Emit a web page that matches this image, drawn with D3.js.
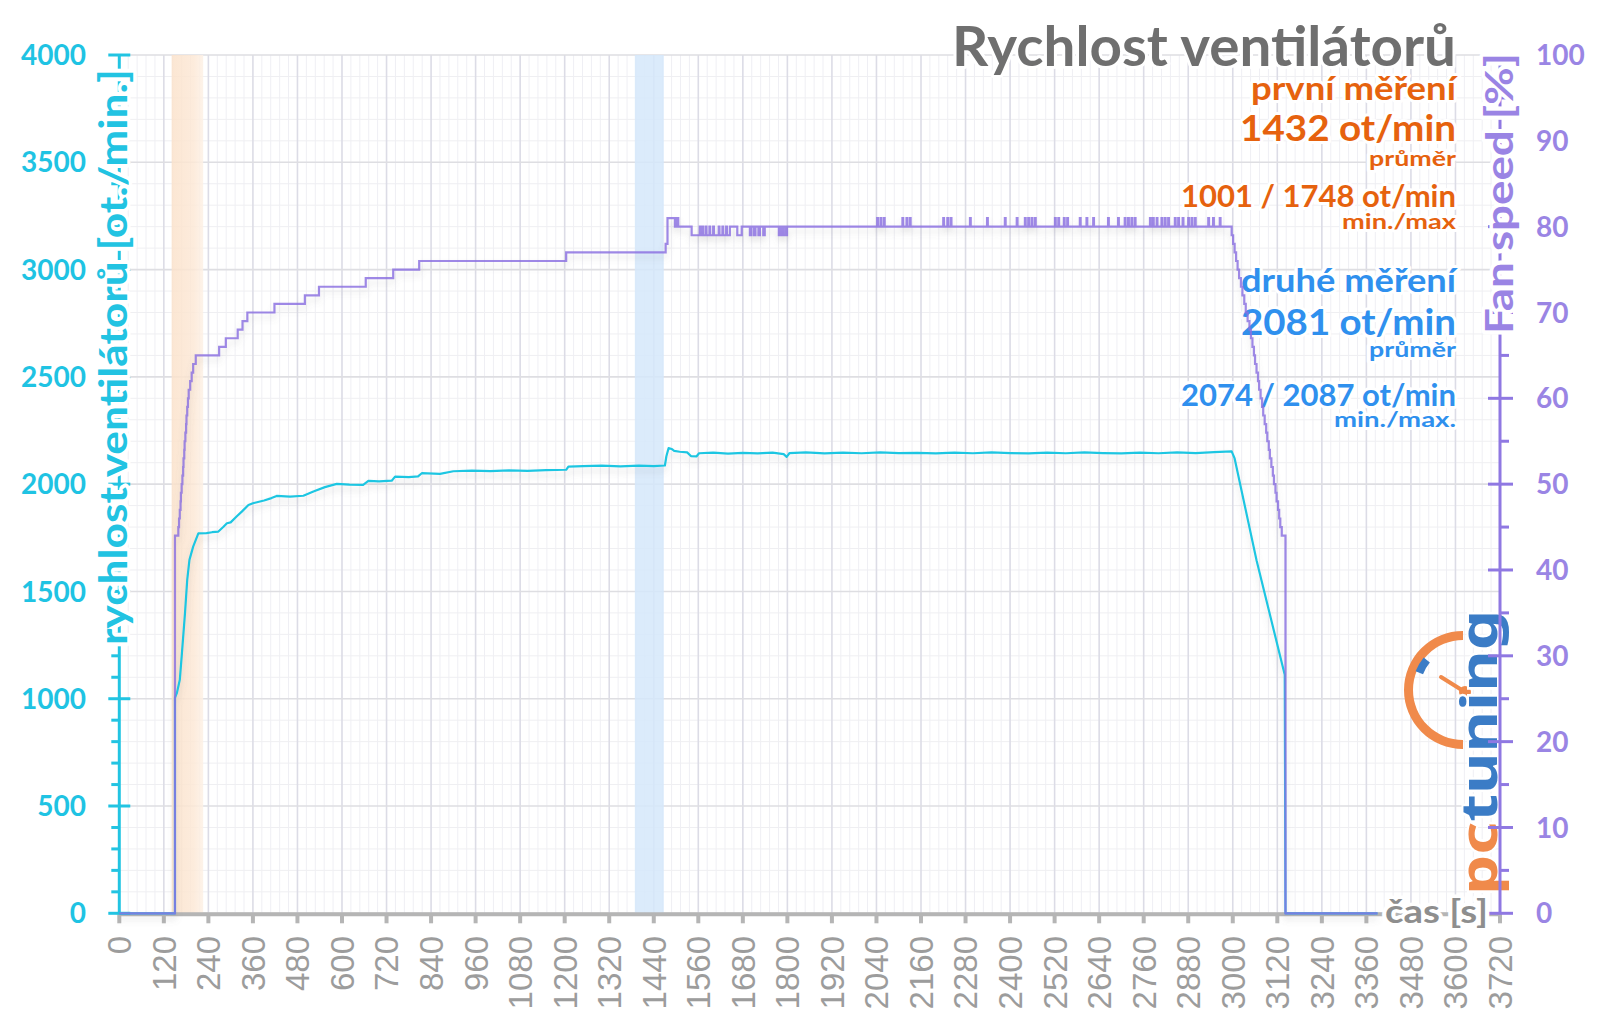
<!DOCTYPE html>
<html><head><meta charset="utf-8">
<script src="https://cdn.jsdelivr.net/npm/d3@7"></script>
<style>
html,body{margin:0;padding:0;background:#fff;}
svg{display:block;}
</style></head><body>
<svg id="chart" width="1600" height="1009"></svg>
<script>
// ---------- DATA ----------
const xTickValues = [0,120,240,360,480,600,720,840,960,1080,1200,1320,1440,1560,1680,1800,1920,2040,2160,2280,2400,2520,2640,2760,2880,3000,3120,3240,3360,3480,3600,3720];
const rpmTickValues = [0,500,1000,1500,2000,2500,3000,3500,4000];
const pctTickValues = [0,10,20,30,40,50,60,70,80,90,100];

// shaded measurement windows (seconds)
const bandStart = [141, 1389];
const bandEnd   = [226, 1467];

// fan speed RPM (left axis), [time s, rpm]
const rpmSeries = [
 [0,0],[150,0],[150,1004],[155,1026],[163,1088],[168,1196],[177,1399],[183,1554],[189,1647],[199,1709],[213,1771],
 [235,1772],[250,1776],[267,1779],[280,1800],[290,1818],[300,1822],[316,1849],[330,1872],[348,1903],[360,1911],
 [390,1924],[410,1935],[424,1945],[460,1942],[496,1946],[523,1966],[554,1986],[586,2001],[620,1998],[657,1997],
 [671,2015],[700,2013],[734,2016],[743,2035],[780,2033],[805,2036],[815,2051],[864,2048],[900,2060],[950,2063],
 [1000,2061],[1050,2064],[1100,2062],[1150,2065],[1204,2067],[1210,2082],[1250,2084],[1300,2086],[1350,2083],
 [1400,2086],[1440,2084],[1470,2087],[1474,2130],[1480,2168],[1488,2164],[1495,2155],[1510,2151],[1530,2148],
 [1540,2131],[1555,2129],[1562,2144],[1600,2147],[1640,2142],[1680,2146],[1720,2143],[1760,2147],[1790,2140],
 [1798,2127],[1806,2145],[1850,2148],[1900,2143],[1950,2147],[2000,2144],[2050,2148],[2100,2145],[2150,2146],
 [2200,2143],[2250,2147],[2300,2144],[2350,2148],[2400,2145],[2450,2143],[2500,2147],[2550,2144],[2600,2148],
 [2650,2145],[2700,2143],[2750,2147],[2800,2144],[2850,2148],[2900,2145],[2950,2149],[2997,2153],
 [3005,2120],[3064,1645],[3140,1112],[3142,0],[3390,0]
];

// fan speed % (right axis), step changes [time s, %]
const fanSteps = [
 [0,0],[150,44],[159,45],[161,46],[163,47],[165,48],[166,49],[168,50],[170,51],[172,52],[173,53],[175,54],[176,55],
 [178,56],[180,57],[181,58],[183,59],[185,60],[187,61],[191,62],[195,63],[199,64],[206,65],
 [269,66],[287,67],[319,68],[332,69],[345,70],[418,71],[500,72],[538,73],[664,74],[738,75],[808,76],[1204,77],
 [1472,78],[1477,81],[1497,80],[1500,81],[1502,80],[1504,81],[1506,80],
 [1542,79],[1564,80],[1566,79],[1571,80],[1573,79],[1580,80],[1582,79],[1590,80],[1592,79],[1600,80],[1602,79],
 [1615,80],[1617,79],[1625,80],[1627,79],[1635,80],[1637,79],[1645,80],[1665,79],[1677,80],
 [1699,79],[1703,80],[1710,79],[1714,80],[1722,79],[1726,80],[1735,79],[1739,80],
 [1777,79],[1781,80],[1785,79],[1789,80],[1795,79],[1799,80]
];
// brief 81 % peaks on the 80 % plateau (seconds)
const fanPeakTimes = [2042,2051,2060,2110,2121,2130,2220,2231,2240,2292,2338,2386,2418,2440,2449,2458,2467,
 2521,2530,2545,2554,2588,2606,2624,2664,2691,2709,2718,2727,2736,2777,2785,2795,2808,2817,2826,2844,2853,
 2865,2880,2889,2898,2934,2947,2965];
// ramp-down [time s, %]
const fanRampDown = [
 [2997,79],[3001,78],[3005,77],[3009,76],[3013,75],[3017,74],[3022,73],[3026,72],[3031,71],[3035,70],[3040,69],
 [3045,68],[3049,67],[3053,66],[3057,65],[3060,64],[3064,63],[3068,62],[3071,61],[3075,60],[3079,59],[3082,58],
 [3086,57],[3090,56],[3093,55],[3097,54],[3100,53],[3104,52],[3108,51],[3111,50],[3115,49],[3118,48],[3122,47],
 [3125,46],[3128,45],[3132,44],[3142,0],[3390,0]
];

const titleText = "Rychlost ventilátorů";
const leftAxisTitle = "rychlost ventilátorů [ot./min.]";
const rightAxisTitle = "Fan speed [%]";
const xAxisTitle = "čas [s]";
const run1 = {name:"první měření", avg:"1432 ot/min", avgLbl:"průměr", mm:"1001 / 1748 ot/min", mmLbl:"min./max"};
const run2 = {name:"druhé měření", avg:"2081 ot/min", avgLbl:"průměr", mm:"2074 / 2087 ot/min", mmLbl:"min./max."};

// ---------- DRAW ----------
const svg = d3.select("#chart");
const x  = d3.scaleLinear().domain([0,3720]).range([119.3,1500]);
const yL = d3.scaleLinear().domain([0,4000]).range([913.3,55]);
const yR = d3.scaleLinear().domain([0,100]).range([913.3,55]);

const defs = svg.append("defs");
const f = defs.append("filter").attr("id","sh").attr("x","-5%").attr("y","-10%").attr("width","110%").attr("height","130%");
f.append("feDropShadow").attr("dx",0).attr("dy",5).attr("stdDeviation",3).attr("flood-color","#777").attr("flood-opacity",0.22);
const gOr = defs.append("linearGradient").attr("id","gOr").attr("x1",0).attr("x2",1).attr("y1",0).attr("y2",0);
gOr.append("stop").attr("offset","0%").attr("stop-color","#fbe2cb");
gOr.append("stop").attr("offset","70%").attr("stop-color","#fce8d6");
gOr.append("stop").attr("offset","100%").attr("stop-color","#fdf1e6");

const x0 = x(0), x1 = x(3720), yTop = yL(4000), yBot = yL(0);

// grid - minor
const g = svg.append("g");
g.selectAll(".vmin").data(d3.range(0,3721,24).filter(v=>v%120!==0)).join("line")
  .attr("x1",d=>x(d)).attr("x2",d=>x(d)).attr("y1",yTop).attr("y2",yBot)
  .attr("stroke","#efeff4").attr("stroke-width",1);
g.selectAll(".hmin").data(d3.range(0,4001,100).filter(v=>v%500!==0)).join("line")
  .attr("x1",x0).attr("x2",x1).attr("y1",d=>yL(d)).attr("y2",d=>yL(d))
  .attr("stroke","#efeff2").attr("stroke-width",1);
// bands
svg.append("g").selectAll("rect").data(bandStart).join("rect")
  .attr("x",(d,i)=>x(d)).attr("width",(d,i)=>x(bandEnd[i])-x(d))
  .attr("y",yTop).attr("height",yBot-yTop)
  .attr("fill",(d,i)=>i===0?"url(#gOr)":"#d5e7fa").attr("opacity",(d,i)=>i===0?0.85:0.85);
// grid - major
g.selectAll(".vmaj").data(xTickValues).join("line")
  .attr("x1",d=>x(d)).attr("x2",d=>x(d)).attr("y1",yTop).attr("y2",yBot)
  .attr("stroke","#dcdce6").attr("stroke-width",1.6);
g.selectAll(".hmaj").data(rpmTickValues).join("line")
  .attr("x1",x0).attr("x2",x1).attr("y1",d=>yL(d)).attr("y2",d=>yL(d))
  .attr("stroke","#dedee2").attr("stroke-width",1.6);

// logo (behind axes)
const logo = svg.append("g");
logo.append("path").attr("transform","translate(1463,690)")
  .attr("d", d3.arc()({innerRadius:50,outerRadius:59,startAngle:Math.PI,endAngle:2*Math.PI}))
  .attr("fill","#f08a4b");
logo.append("path").attr("transform","translate(1463,690)")
  .attr("d", d3.arc()({innerRadius:43,outerRadius:51,startAngle:Math.PI*1.62,endAngle:Math.PI*1.72}))
  .attr("fill","#3b7cc6");
logo.append("line").attr("x1",1465).attr("y1",692).attr("x2",1441).attr("y2",677)
  .attr("stroke","#f08a4b").attr("stroke-width",4).attr("stroke-linecap","round");
logo.append("circle").attr("cx",1465).attr("cy",692).attr("r",6).attr("fill","#f08a4b");
const lt = logo.append("text").attr("transform","translate(1497,895) rotate(-90)")
  .attr("font-family","'Noto Sans',sans-serif").attr("font-weight",700).attr("font-size",50)
  .attr("textLength",285).attr("lengthAdjust","spacingAndGlyphs")
  .attr("stroke","#fff").attr("stroke-width",4).attr("paint-order","stroke");
lt.append("tspan").attr("fill","#f08a4b").text("pc");
lt.append("tspan").attr("fill","#3b7cc6").text("tuning");

// annotation texts
const ann = svg.append("g").attr("font-family","Lato, 'Open Sans', sans-serif").attr("font-weight",700)
  .attr("text-anchor","end").attr("stroke","#fff").attr("stroke-width",6).attr("stroke-linejoin","round").attr("paint-order","stroke");
function annText(txt, y, size, len, color){
  ann.append("text").attr("x",1456).attr("y",y).attr("font-size",size).attr("fill",color)
    .attr("textLength",len).attr("lengthAdjust","spacingAndGlyphs").text(txt);
}
annText(titleText, 66, 56, 504, "#6f6f6f");
const orange = "#e6620e", blue = "#2f90ee";
annText(run1.name, 100, 33, 205, orange);
annText(run1.avg, 141, 37, 216, orange);
annText(run1.avgLbl, 166, 21, 87, orange);
annText(run1.mm, 207, 31, 275, orange);
annText(run1.mmLbl, 229, 21, 114, orange);
annText(run2.name, 292, 33, 215, blue);
annText(run2.avg, 335, 37, 215, blue);
annText(run2.avgLbl, 357, 21, 87, blue);
annText(run2.mm, 406, 31, 275, blue);
annText(run2.mmLbl, 427, 21, 122, blue);

// axes lines
const ax = svg.append("g");
ax.append("line").attr("x1",x0).attr("x2",x1).attr("y1",yBot+1).attr("y2",yBot+1).attr("stroke","#b5b5b5").attr("stroke-width",4);
ax.selectAll(".xt").data(xTickValues).join("line")
  .attr("x1",d=>x(d)).attr("x2",d=>x(d)).attr("y1",yBot).attr("y2",yBot+10)
  .attr("stroke","#b5b5b5").attr("stroke-width",4);
const cyanAxis = "#22c4e2", purpleAxis = "#8f78e2";
ax.append("line").attr("x1",x0).attr("x2",x0).attr("y1",yTop).attr("y2",yBot).attr("stroke",cyanAxis).attr("stroke-width",3);
ax.selectAll(".lmin").data(d3.range(0,4001,100).filter(v=>v%500!==0)).join("line")
  .attr("x1",x0-8).attr("x2",x0).attr("y1",d=>yL(d)).attr("y2",d=>yL(d)).attr("stroke",cyanAxis).attr("stroke-width",3);
ax.selectAll(".lmaj").data(rpmTickValues).join("line")
  .attr("x1",x0-11).attr("x2",x0+11).attr("y1",d=>yL(d)).attr("y2",d=>yL(d)).attr("stroke",cyanAxis).attr("stroke-width",3);
ax.append("line").attr("x1",x1).attr("x2",x1).attr("y1",yTop).attr("y2",yBot).attr("stroke",purpleAxis).attr("stroke-width",3);
ax.selectAll(".rmin").data(d3.range(5,100,10)).join("line")
  .attr("x1",x1).attr("x2",x1+9).attr("y1",d=>yR(d)).attr("y2",d=>yR(d)).attr("stroke",purpleAxis).attr("stroke-width",3);
ax.selectAll(".rmaj").data(pctTickValues).join("line")
  .attr("x1",x1-12).attr("x2",x1+13).attr("y1",d=>yR(d)).attr("y2",d=>yR(d)).attr("stroke",purpleAxis).attr("stroke-width",3);

// data lines
const fanData = fanSteps.concat(fanPeakTimes.flatMap(t=>[[t,81],[t+2,80]])).concat(fanRampDown)
  .sort((a,b)=>a[0]-b[0]);
const lines = svg.append("g").attr("filter","url(#sh)");
lines.append("path").datum(rpmSeries)
  .attr("d", d3.line().x(d=>x(d[0])).y(d=>yL(d[1])))
  .attr("fill","none").attr("stroke","#1fc6e2").attr("stroke-width",2.2).attr("stroke-linejoin","round");
lines.append("path").datum(fanData)
  .attr("d", d3.line().curve(d3.curveStepAfter).x(d=>x(d[0])).y(d=>yR(d[1])))
  .attr("fill","none").attr("stroke","#8a6fe0").attr("stroke-opacity",0.82).attr("stroke-width",2.2);

// tick labels
const tl = svg.append("g");
tl.selectAll(".xl").data(xTickValues).join("text")
  .attr("transform",d=>`translate(${x(d)},936) rotate(-90)`)
  .attr("text-anchor","end").attr("dy","0.36em")
  .attr("font-family","'Liberation Sans Narrow','Liberation Sans',sans-serif").attr("font-size",33)
  .attr("fill","#9c9c9c").text(d=>d);
tl.selectAll(".ll").data(rpmTickValues).join("text")
  .attr("x",86).attr("y",d=>yL(d)).attr("dy","0.36em").attr("text-anchor","end")
  .attr("font-family","Lato,'Open Sans',sans-serif").attr("font-weight",700).attr("font-size",28)
  .attr("fill","#1fc3e3").text(d=>d);
tl.selectAll(".rl").data(pctTickValues).join("text")
  .attr("x",1536).attr("y",d=>yR(d)).attr("dy","0.36em").attr("text-anchor","start")
  .attr("font-family","Lato,'Open Sans',sans-serif").attr("font-weight",700).attr("font-size",28)
  .attr("fill","#9a85e4").text(d=>d);

// axis titles with white halo
const at = svg.append("g").attr("font-family","Lato,'Open Sans',sans-serif").attr("font-weight",700)
  .attr("stroke","#fff").attr("stroke-width",7).attr("stroke-linejoin","round").attr("paint-order","stroke");
at.append("text").attr("transform","translate(127,357) rotate(-90)").attr("text-anchor","middle")
  .attr("font-size",39).attr("fill","#22c3e2").attr("textLength",576).attr("lengthAdjust","spacingAndGlyphs").text(leftAxisTitle);
at.append("text").attr("transform","translate(1513,193.5) rotate(-90)").attr("text-anchor","middle")
  .attr("font-size",38).attr("fill","#9a84e4").attr("textLength",281).attr("lengthAdjust","spacingAndGlyphs").text(rightAxisTitle);
at.append("text").attr("x",1488).attr("y",923).attr("text-anchor","end")
  .attr("font-size",32).attr("fill","#8e8e8e").attr("textLength",103).attr("lengthAdjust","spacingAndGlyphs").text(xAxisTitle);
</script>
</body></html>
